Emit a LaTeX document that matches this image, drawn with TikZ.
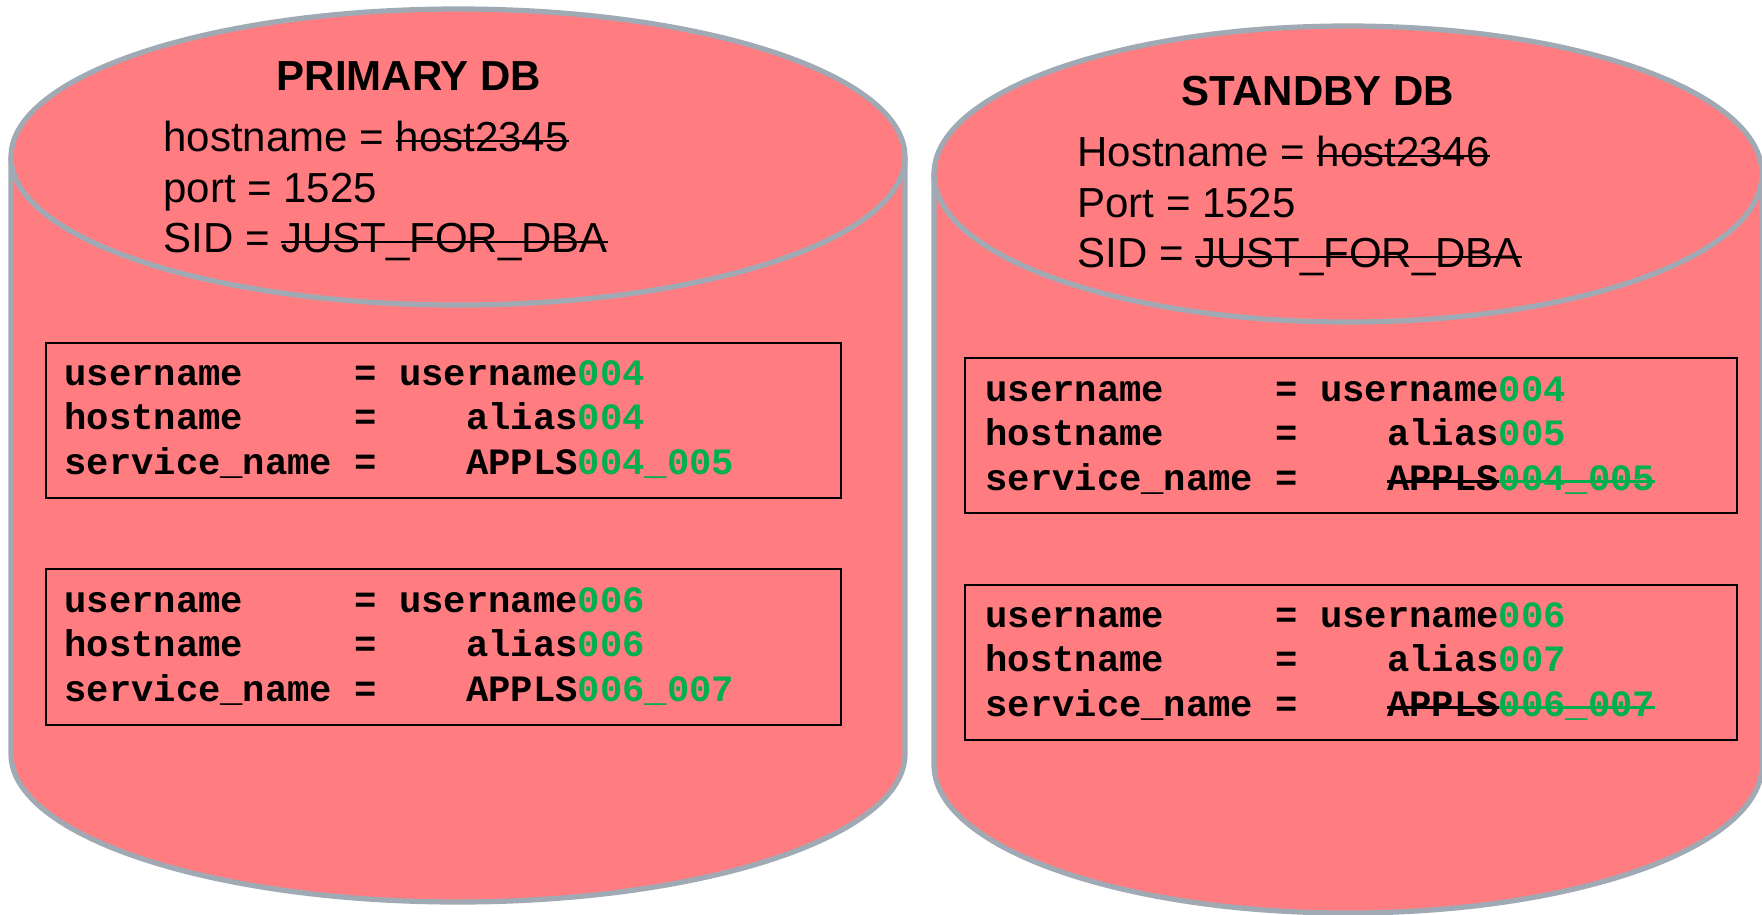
\documentclass[tikz,border=0pt]{standalone}
\usepackage{fontspec}
\setmainfont{Liberation Sans}
\newfontfamily\codefont{Liberation Mono}
\definecolor{dbred}{HTML}{FF7C80}
\definecolor{dbrim}{HTML}{A0AAB4}
\definecolor{dbgreen}{HTML}{00B050}
\newlength\strikewd
\newcommand\strike[2][.24em]{\settowidth\strikewd{#2}\rlap{\rule[#1]{\strikewd}{1.2pt}}#2}
\newcommand\gn[1]{\textcolor{dbgreen}{#1}}
\newcommand\gs[1]{\textcolor{dbgreen}{\strike[.2em]{#1}}}
\begin{document}
\begin{tikzpicture}[x=.5pt,y=.5pt,
	drum/.style={draw=dbrim,line width=2.6pt,fill=dbred},
	frame/.style={draw=black,line width=.8pt},
	title/.style={font=\fontsize{21pt}{25pt}\selectfont\bfseries,anchor=base,inner sep=0},
	info/.style={font=\fontsize{21pt}{25.25pt}\selectfont,anchor=base west,inner sep=0},
	code/.style={font=\codefont\bfseries\fontsize{18.6pt}{22.25pt}\selectfont,anchor=base west,inner sep=0}]
	\useasboundingbox(0,0)rectangle(1762,-915);
	% primary
	\draw[drum](11,-157)--(11,-754)arc[start angle=180,end angle=360,x radius=447,y radius=148]--(905,-157);
	\draw[drum](458,-157)ellipse[x radius=447,y radius=148];
	\node[title](ptitle)at(409,-91){PRIMARY DB};
	\node[info](pinfo)at(163,-152){\begin{tabular}[t]{@{}l@{}}
		hostname = \strike{host2345}\\
		port = 1525\\
		SID = \strike{JUST\_FOR\_DBA}\end{tabular}};
	\draw[frame](46,-343)rectangle(841,-498);
	\node[code](pa)at(64,-385){\begin{tabular}[t]{@{}l@{}}
		username~~~~~=~username\gn{004}\\
		hostname~~~~~=~~~~alias\gn{004}\\
		service\_name~=~~~~APPLS\gn{004\_005}\end{tabular}};
	\draw[frame](46,-569)rectangle(841,-725);
	\node[code](pb)at(64,-612){\begin{tabular}[t]{@{}l@{}}
		username~~~~~=~username\gn{006}\\
		hostname~~~~~=~~~~alias\gn{006}\\
		service\_name~=~~~~APPLS\gn{006\_007}\end{tabular}};
	% standby
	\draw[drum](934,-174)--(934,-765)arc[start angle=180,end angle=360,x radius=414,y radius=148]--(1762,-174);
	\draw[drum](1348,-174)ellipse[x radius=414,y radius=148];
	\node[title](stitle)at(1318,-106){STANDBY DB};
	\node[info](sinfo)at(1077,-167){\begin{tabular}[t]{@{}l@{}}
		Hostname = \strike{host2346}\\
		Port = 1525\\
		SID = \strike{JUST\_FOR\_DBA}\end{tabular}};
	\draw[frame](965,-358)rectangle(1737,-513);
	\node[code](sa)at(985,-401){\begin{tabular}[t]{@{}l@{}}
		username~~~~~=~username\gn{004}\\
		hostname~~~~~=~~~~alias\gn{005}\\
		service\_name~=~~~~\strike[.2em]{APPLS}\gs{004\_005}\end{tabular}};
	\draw[frame](965,-585)rectangle(1737,-740);
	\node[code](sb)at(985,-627){\begin{tabular}[t]{@{}l@{}}
		username~~~~~=~username\gn{006}\\
		hostname~~~~~=~~~~alias\gn{007}\\
		service\_name~=~~~~\strike[.2em]{APPLS}\gs{006\_007}\end{tabular}};
\end{tikzpicture}
\end{document}
